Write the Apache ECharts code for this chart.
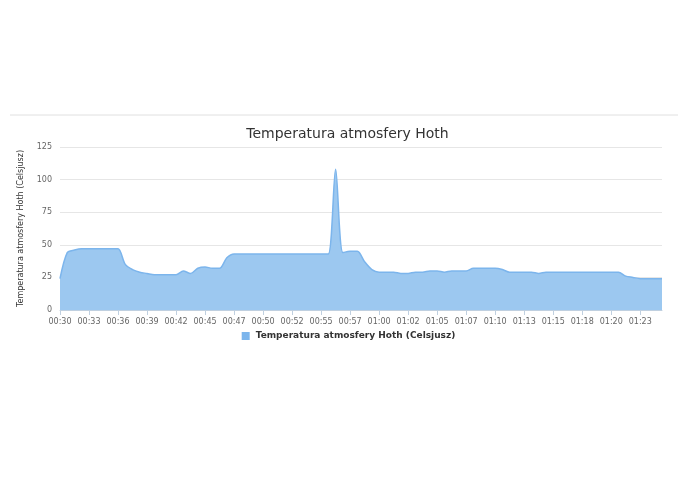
<!DOCTYPE html>
<html>
<head>
<meta charset="utf-8">
<script src="https://cdn.jsdelivr.net/npm/echarts@6/dist/echarts.min.js"></script>
<style>html,body{margin:0;padding:0;background:#fff}#chart{width:695px;height:494px}</style>
</head>
<body>
<div id="chart"></div>
<script>
const seriesName = 'Temperatura atmosfery Hoth (Celsjusz)';
const tickLabels = ['00:30','00:33','00:36','00:39','00:42','00:45','00:47','00:50','00:52','00:55','00:57',
  '01:00','01:02','01:05','01:07','01:10','01:13','01:15','01:18','01:20','01:23'];
const temps = [24,44,46,47,47,47,47,47,47,35,31,29,28,27,27,27,27,30,28,32,33,32,32,40,43,43,
  43,43,43,43,43,43,43,43,43,43,43,43,108,44,45,45,37,31,29,29,29,28,28,29,29,30,30,29,30,30,30,
  32,32,32,32,31,29,29,29,29,28,29,29,29,29,29,29,29,29,29,29,29,26,25,24,24,24,24];
const hoverIndex = 35;
const hoverLabel = '00:54';

const categories = temps.map((v, i) => i % 4 === 0 ? (tickLabels[i / 4] || '') : '');

const chart = echarts.init(document.getElementById('chart'));
chart.setOption({
  animation: false,
  textStyle: { fontFamily: 'Lucida Grande, DejaVu Sans, sans-serif' },
  title: {
    text: 'Temperatura atmosfery Hoth', left: 'center', top: 122,
    textStyle: { fontSize: 14, fontWeight: 'normal', color: '#333' }
  },
  graphic: [{ type: 'line', shape: { x1: 10, y1: 115, x2: 678, y2: 115 }, style: { stroke: '#e0e0e0', lineWidth: 1 } }],
  legend: {
    bottom: 147, left: 'center', itemWidth: 10, itemHeight: 10, icon: 'rect',
    textStyle: { fontSize: 9, fontWeight: 'bold', color: '#333' }
  },
  tooltip: {
    trigger: 'item', alwaysShowContent: true, backgroundColor: 'rgba(249,249,249,0.9)',
    borderColor: '#7cb5ec', borderWidth: 1, padding: [4, 6],
    textStyle: { fontSize: 8, color: '#333' },
    formatter: p => hoverLabel + '<br/><span style="color:#7cb5ec">\u25CF</span> ' + seriesName + ': <b>' + p.value + '</b>',
    position: pt => [pt[0] - 82, pt[1] - 37]
  },
  grid: { left: 60, right: 33, top: 147, bottom: 184 },
  xAxis: {
    type: 'category', data: categories, boundaryGap: false,
    axisLine: { lineStyle: { color: '#c0d0e0' } },
    axisTick: { show: true, interval: 3, lineStyle: { color: '#c0d0e0' } },
    axisLabel: { interval: 3, fontSize: 8, color: '#666' }
  },
  yAxis: {
    type: 'value', min: 0, max: 125, interval: 25,
    name: seriesName, nameLocation: 'middle', nameGap: 35, nameRotate: 90,
    nameTextStyle: { fontSize: 8, color: '#333' },
    axisLabel: { fontSize: 8, color: '#666' },
    splitLine: { lineStyle: { color: '#e6e6e6' } }
  },
  series: [{
    name: seriesName, type: 'line', data: temps, smooth: 0.3,
    symbol: 'circle', symbolSize: 7, showSymbol: false,
    itemStyle: { color: '#7cb5ec', borderColor: '#fff', borderWidth: 1 },
    lineStyle: { color: '#7cb5ec', width: 1.5 },
    areaStyle: { color: '#9cc8f0', opacity: 1 }
  }]
});
chart.dispatchAction({ type: 'showTip', seriesIndex: 0, dataIndex: hoverIndex });
</script>
</body>
</html>
